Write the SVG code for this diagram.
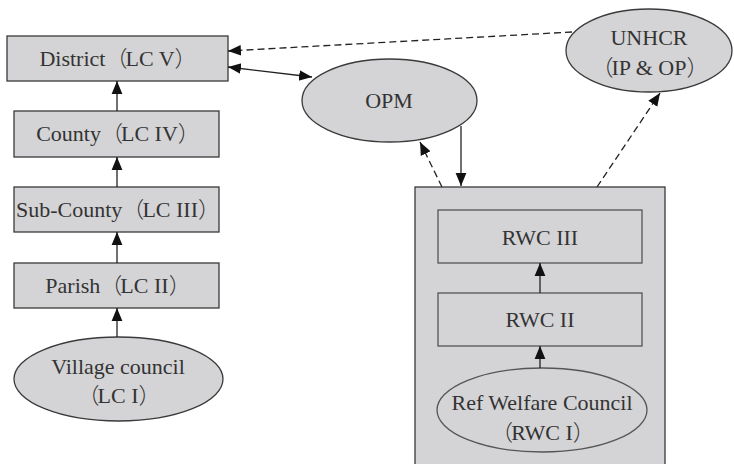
<svg xmlns="http://www.w3.org/2000/svg" width="734" height="464" viewBox="0 0 734 464">
  <style>
    .shape { fill: #d4d4d6; stroke: #3a3a3a; stroke-width: 1.3; }
    .inner { fill: #d4d4d6; stroke: #555; stroke-width: 1.3; }
    .label { font-family: "Liberation Serif", "Times New Roman", serif; font-size: 22px; fill: #333; text-anchor: middle; }
    .fw { font-family: "Noto Sans CJK SC", serif; font-weight: 300; letter-spacing: -2px; }
    .link { fill: none; stroke: #222; stroke-width: 1.3; }
    .dash { stroke-dasharray: 7 4; }
  </style>
  <defs>
    <marker id="arrow" markerUnits="userSpaceOnUse" markerWidth="14" markerHeight="14" viewBox="0 0 13 12" refX="12" refY="6" orient="auto-start-reverse">
      <path d="M0,1 L12,6 L0,11 Z" fill="#111"/>
    </marker>
  </defs>

  <rect width="734" height="464" fill="#fff"/>

  <!-- refugee welfare council container -->
  <g id="rwc-group">
    <rect class="shape" x="415" y="187" width="250" height="290"/>
  </g>

  <g id="district">
    <rect class="shape" x="7" y="36" width="221" height="45"/>
    <text class="label" x="117" y="66">District<tspan class="fw">（</tspan>LC V<tspan class="fw">）</tspan></text>
  </g>
  <g id="county">
    <rect class="shape" x="14" y="111" width="205" height="46"/>
    <text class="label" x="117" y="141">County<tspan class="fw">（</tspan>LC IV<tspan class="fw">）</tspan></text>
  </g>
  <g id="subcounty">
    <rect class="shape" x="14" y="187" width="205" height="45"/>
    <text class="label" x="117" y="217">Sub-County<tspan class="fw">（</tspan>LC III<tspan class="fw">）</tspan></text>
  </g>
  <g id="parish">
    <rect class="shape" x="14" y="263" width="205" height="45"/>
    <text class="label" x="117" y="293">Parish<tspan class="fw">（</tspan>LC II<tspan class="fw">）</tspan></text>
  </g>
  <g id="village">
    <ellipse class="shape" cx="118.5" cy="379" rx="104.5" ry="42"/>
    <text class="label" x="118" y="374">Village council</text>
    <text class="label" x="118" y="403"><tspan class="fw">（</tspan>LC I<tspan class="fw">）</tspan></text>
  </g>

  <g id="opm">
    <ellipse class="shape" cx="389.5" cy="100.5" rx="87.5" ry="41.5"/>
    <text class="label" x="389" y="108">OPM</text>
  </g>
  <g id="unhcr">
    <ellipse class="shape" cx="649" cy="50.5" rx="83" ry="41.5"/>
    <text class="label" x="649" y="45">UNHCR</text>
    <text class="label" x="649" y="75"><tspan class="fw">（</tspan>IP &amp; OP<tspan class="fw">）</tspan></text>
  </g>

  <g id="rwc3">
    <rect class="inner" x="438" y="210" width="204" height="53"/>
    <text class="label" x="540" y="245">RWC III</text>
  </g>
  <g id="rwc2">
    <rect class="inner" x="438" y="293" width="204" height="53"/>
    <text class="label" x="540" y="327">RWC II</text>
  </g>
  <g id="rwc1">
    <ellipse class="inner" cx="542" cy="410" rx="105" ry="42"/>
    <text class="label" x="542" y="410">Ref Welfare Council</text>
    <text class="label" x="542" y="440"><tspan class="fw">（</tspan>RWC I<tspan class="fw">）</tspan></text>
  </g>

  <g id="connectors">
    <!-- local council chain -->
    <line class="link" x1="117" y1="111" x2="117" y2="81" marker-end="url(#arrow)"/>
    <line class="link" x1="117" y1="187" x2="117" y2="157" marker-end="url(#arrow)"/>
    <line class="link" x1="117" y1="263" x2="117" y2="232" marker-end="url(#arrow)"/>
    <line class="link" x1="117" y1="337" x2="117" y2="308" marker-end="url(#arrow)"/>
    <!-- district and OPM -->
    <line class="link" x1="228" y1="67" x2="312" y2="77" marker-start="url(#arrow)" marker-end="url(#arrow)"/>
    <!-- UNHCR to district -->
    <line class="link dash" x1="572" y1="32" x2="228" y2="51" marker-end="url(#arrow)"/>
    <!-- OPM to refugee councils -->
    <line class="link" x1="461" y1="126" x2="461" y2="186" marker-end="url(#arrow)"/>
    <line class="link dash" x1="442" y1="187" x2="420" y2="142" marker-end="url(#arrow)"/>
    <line class="link dash" x1="597" y1="187" x2="660" y2="93" marker-end="url(#arrow)"/>
    <!-- refugee council chain -->
    <line class="link" x1="540" y1="293" x2="540" y2="263" marker-end="url(#arrow)"/>
    <line class="link" x1="540" y1="368" x2="540" y2="346" marker-end="url(#arrow)"/>
  </g>
</svg>
